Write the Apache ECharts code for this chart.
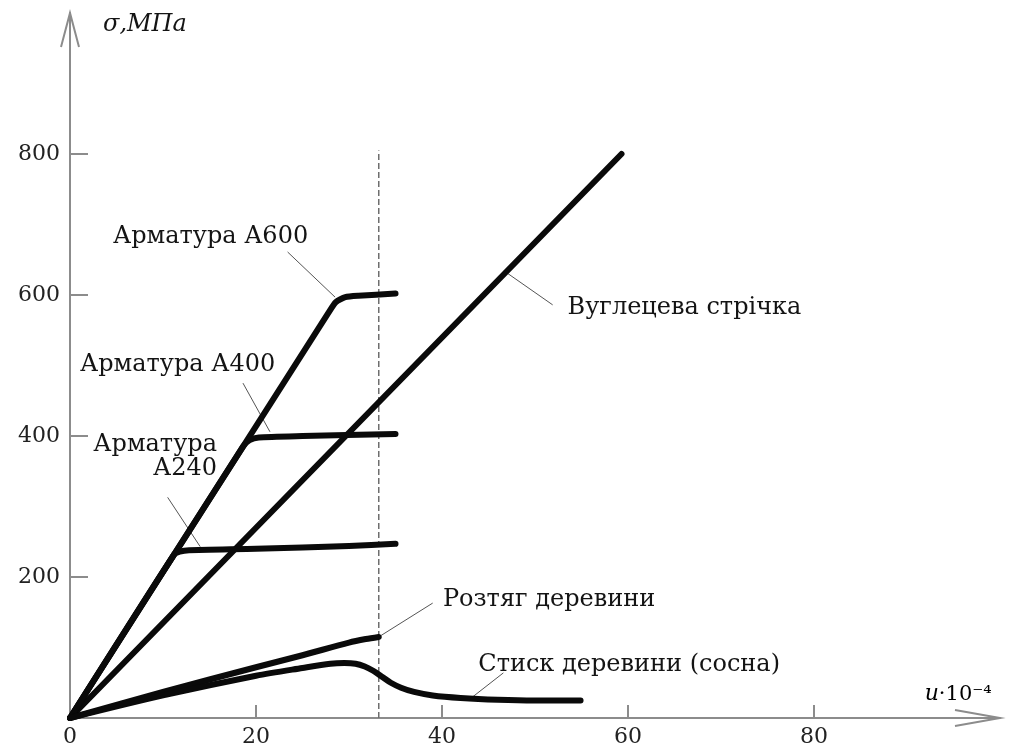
<!DOCTYPE html>
<html><head><meta charset="utf-8">
<script src="https://cdn.jsdelivr.net/npm/echarts@6/dist/echarts.min.js"></script>
<style>html,body{margin:0;padding:0;background:#fff}#c{width:1013px;height:749px}</style>
</head><body><div id="c"></div>
<script>
// ---- data (strain u·10^-4, stress σ MPa) ----
const xTickLabels = [0, 20, 40, 60, 80];
const xTickMarks = [20, 40, 60, 80];
const yTickLabels = [200, 400, 600, 800];
const carbonTape = [[0, 0], [59.3, 800]];
const rebarA600 = [[0, 0], [27.8, 575], [28.6, 590], [29.6, 597], [31, 599], [35, 602]];
const rebarA400 = [[0, 0], [18.6, 385], [19.3, 394], [20.3, 398], [25, 400], [35, 403]];
const rebarA240 = [[0, 0], [11.2, 232], [11.8, 236], [12.8, 238], [20, 240], [30, 244], [35, 247]];
const woodTension = [[0, 0], [10, 37], [20, 72], [25, 89], [30, 107], [31.8, 112], [33.2, 115]];
const woodCompression = [[0, 0], [10, 32], [20, 60], [25, 71], [28, 77], [29.5, 78], [30.7, 77], [31.7, 73], [32.6, 67], [33.5, 59], [34.5, 50], [35.6, 43], [37, 37], [39, 32], [42, 28.5], [46, 26], [50, 25], [54.9, 25]];
const limitLine = [[33.2, 0], [33.2, 805]];

// ---- annotations (data coordinates) ----
const labelTexts = ['Арматура А600', 'Арматура А400', 'Арматура\nА240', 'Вуглецева стрічка', 'Розтяг деревини', 'Стиск деревини (сосна)'];
const labelAnchors = [[4.62, 682], [1.08, 501], [15.8, 371], [53.5, 582], [40.1, 167], [43.9, 75]];
const labelAlign = ['left', 'left', 'right', 'left', 'left', 'left'];
const leaders = [
  [[23.4, 661], [28.5, 597]],
  [[18.6, 475], [21.5, 406]],
  [[10.5, 313], [14.0, 243]],
  [[46.8, 633], [51.9, 586]],
  [[39.0, 163], [33.2, 115]],
  [[46.6, 64], [43.3, 30]]
];
const yAxisTitle = 'σ,МПа';
const yTitleAnchor = [3.55, 984];
const xTitleAnchor = [91.9, 33];

const FONT = '"DejaVu Serif", "Liberation Serif", serif';
const AX = '#8c8c8c';
const chart = echarts.init(document.getElementById('c'), null, {renderer: 'canvas'});

const curve = (name, data, smooth) => ({
  name, type: 'line', data, symbol: 'none', showSymbol: false, smooth: smooth || false,
  lineStyle: {color: '#0a0a0a', width: 6, cap: 'round', join: 'round'}, z: 4, silent: true
});

const series = [
  curve('Вуглецева стрічка', carbonTape),
  curve('Арматура А600', rebarA600, 0.2),
  curve('Арматура А400', rebarA400, 0.2),
  curve('Арматура А240', rebarA240, 0.2),
  curve('Розтяг деревини', woodTension, 0.3),
  curve('Стиск деревини (сосна)', woodCompression, 0.3),
  {type: 'line', data: limitLine, symbol: 'none', lineStyle: {color: '#6e6e6e', width: 1.5, type: [6, 3]}, z: 2, silent: true}
];
leaders.forEach(l => series.push({type: 'line', data: l, symbol: 'none', lineStyle: {color: '#555', width: 1}, z: 3, silent: true}));

chart.setOption({
  animation: false,
  backgroundColor: '#fff',
  grid: {left: 70, right: 13, top: 13, bottom: 31},
  xAxis: {
    type: 'value', min: 0, max: 100,
    axisLine: {show: true, onZero: false, lineStyle: {color: AX, width: 2}},
    axisTick: {show: true, inside: true, length: 13, lineStyle: {color: AX, width: 2}, customValues: xTickMarks},
    axisLabel: {customValues: xTickLabels, margin: 8, fontFamily: FONT, fontSize: 22, color: '#222'},
    splitLine: {show: false}
  },
  yAxis: {
    type: 'value', min: 0, max: 1000,
    axisLine: {show: true, onZero: false, lineStyle: {color: AX, width: 2}},
    axisTick: {show: true, inside: true, length: 18, lineStyle: {color: AX, width: 2}, customValues: yTickLabels},
    axisLabel: {customValues: yTickLabels, margin: 10, fontFamily: FONT, fontSize: 22, color: '#222'},
    splitLine: {show: false}
  },
  series
});

const px = p => chart.convertToPixel({gridIndex: 0}, p);
const graphics = [];
labelTexts.forEach((t, i) => {
  const p = px(labelAnchors[i]);
  graphics.push({type: 'text', x: p[0], y: p[1], z: 10, style: {
    text: t, font: '24px ' + FONT, fill: '#141414', align: labelAlign[i], verticalAlign: 'middle', lineHeight: 24
  }});
});
const yt = px(yTitleAnchor);
graphics.push({type: 'text', x: yt[0], y: yt[1], z: 10, style: {
  text: yAxisTitle, font: 'italic 24px ' + FONT, fill: '#141414', align: 'left', verticalAlign: 'middle'
}});
const xt = px(xTitleAnchor);
graphics.push({type: 'text', x: xt[0], y: xt[1], z: 10, style: {
  text: '{i|u}{n|·10⁻⁴}', align: 'left', verticalAlign: 'middle',
  rich: {i: {fontFamily: FONT, fontStyle: 'italic', fontSize: 22, color: '#141414'},
         n: {fontFamily: FONT, fontSize: 21, color: '#141414'}}
}});
// axis arrowheads (open chevrons)
const yTip = px([0, 1000]);
graphics.push({type: 'polyline', z: 10, shape: {points: [[yTip[0] - 9, yTip[1] + 34], [yTip[0], yTip[1]], [yTip[0] + 9, yTip[1] + 34]]},
  style: {stroke: AX, lineWidth: 2, fill: null}});
const xTip = px([100, 0]);
graphics.push({type: 'polyline', z: 10, shape: {points: [[xTip[0] - 45, xTip[1] - 8], [xTip[0], xTip[1]], [xTip[0] - 45, xTip[1] + 8]]},
  style: {stroke: AX, lineWidth: 2, fill: null}});
chart.setOption({graphic: graphics});
</script>
</body></html>
